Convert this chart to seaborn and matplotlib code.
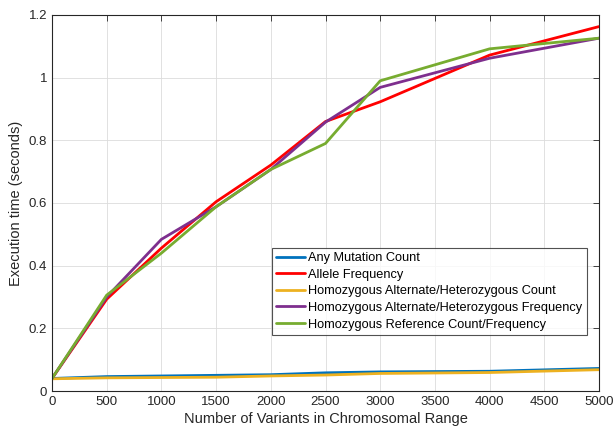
import numpy as np
import pandas as pd
import matplotlib
matplotlib.use("Agg")
import matplotlib.pyplot as plt
import seaborn as sns

variants = [0, 500, 1000, 1500, 2000, 2500, 3000, 4000, 5000]
any_mutation = [0.040, 0.046, 0.048, 0.050, 0.052, 0.058, 0.061, 0.063, 0.072]
allele_freq = [0.040, 0.293, 0.456, 0.604, 0.721, 0.860, 0.923, 1.072, 1.163]
homalt_count = [0.039, 0.042, 0.043, 0.044, 0.048, 0.051, 0.056, 0.059, 0.068]
homalt_freq = [0.040, 0.300, 0.484, 0.588, 0.707, 0.858, 0.969, 1.062, 1.126]
homref = [0.040, 0.306, 0.440, 0.588, 0.707, 0.790, 0.990, 1.092, 1.126]

names = ["Any Mutation Count", "Allele Frequency",
         "Homozygous Alternate/Heterozygous Count",
         "Homozygous Alternate/Heterozygous Frequency",
         "Homozygous Reference Count/Frequency"]
series = [any_mutation, allele_freq, homalt_count, homalt_freq, homref]
colors = ["#0072BD", "#FF0000", "#EDB120", "#7E2F8E", "#77AC30"]

rows = []
for n, s in zip(names, series):
    for x, y in zip(variants, s):
        rows.append({"x": x, "y": y, "series": n})
df = pd.DataFrame(rows)

sns.set_style("white")
plt.rcParams['font.family'] = ['Liberation Sans', 'DejaVu Sans']

fig = plt.figure(figsize=(6.16, 4.37), dpi=100)
ax = fig.add_axes([52/616, 1-391/437, 547/616, 376/437])
sns.lineplot(data=df, x="x", y="y", hue="series", hue_order=names,
             palette=colors, linewidth=2, ax=ax, legend=True)

ax.set_xlim(0, 5000)
ax.set_ylim(0, 1.2)
ax.set_xticks(np.arange(0, 5001, 500))
ax.set_yticks(np.arange(0, 1.21, 0.2))
ax.set_yticklabels(["0", "0.2", "0.4", "0.6", "0.8", "1", "1.2"])
ax.grid(True, color="#dcdcdc", linewidth=0.6)
ax.tick_params(direction="in", top=True, right=True, length=4, labelsize=9.5,
               color="#262626", labelcolor="#262626", width=0.6)
for sp in ax.spines.values():
    sp.set_color("#262626")
    sp.set_linewidth(0.8)
ax.set_xlabel("Number of Variants in Chromosomal Range", fontsize=10.5, color="#262626", labelpad=3)
ax.set_ylabel("Execution time (seconds)", fontsize=10.5, color="#262626", labelpad=4)

leg = ax.legend(loc="lower right", bbox_to_anchor=(0.978, 0.149), fontsize=9.2,
                frameon=True, fancybox=False, edgecolor="#262626", handlelength=2.2,
                handletextpad=0.3, borderpad=0.35, labelspacing=0.36, borderaxespad=0)
leg.get_frame().set_linewidth(0.8)
for t in leg.get_texts():
    t.set_color("black")

fig.savefig("out.png", dpi=100)
